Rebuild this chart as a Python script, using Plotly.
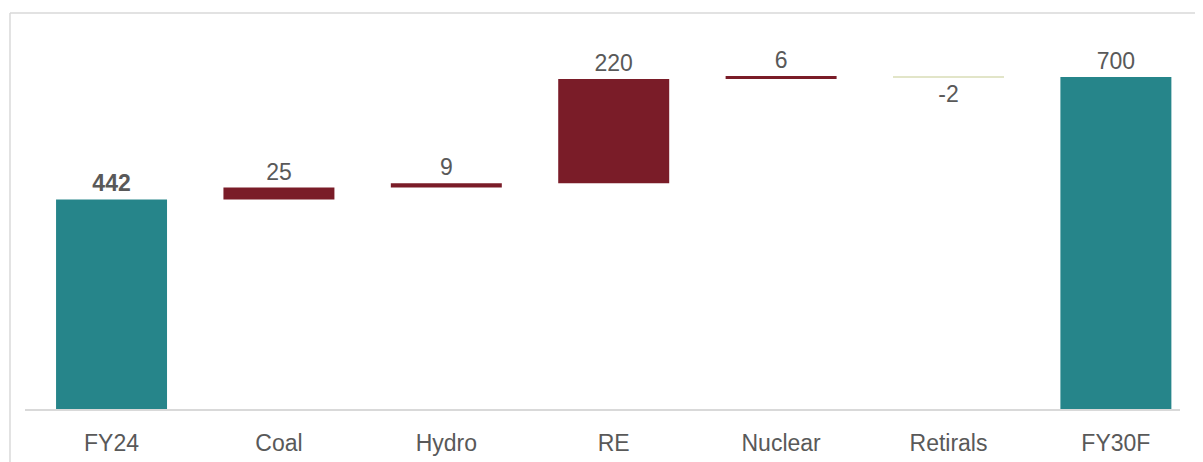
import plotly.graph_objects as go

categories = ["FY24", "Coal", "Hydro", "RE", "Nuclear", "Retirals", "FY30F"]
values = [442, 25, 9, 220, 6, -2, 0]
measures = ["absolute", "relative", "relative", "relative", "relative", "relative", "total"]
total_value = 700

labels = []
for i, (v, m) in enumerate(zip(values, measures)):
    if m == "total":
        labels.append(str(total_value))
    elif i == 0:
        labels.append("<b>%d</b>" % v)
    else:
        labels.append(str(v))

TEAL = "#26858A"
RED = "#7A1C28"
PALE = "#E2E5C8"
GREY_TXT = "#595959"
FRAME = "#D9D9D9"

fig = go.Figure(go.Waterfall(
    x=categories,
    y=values,
    measure=measures,
    text=labels,
    textposition="outside",
    textfont=dict(size=23, color=GREY_TXT, family="Arial, Liberation Sans, sans-serif"),
    cliponaxis=False,
    increasing=dict(marker=dict(color=RED)),
    decreasing=dict(marker=dict(color=PALE)),
    totals=dict(marker=dict(color=TEAL)),
    connector=dict(visible=False),
    width=0.663,
    hoverinfo="x+y",
))

fig.update_layout(
    width=1195, height=454,
    margin=dict(l=17, r=23, t=5, b=53),
    paper_bgcolor="white", plot_bgcolor="white",
    showlegend=False,
    font=dict(family="Arial, Liberation Sans, sans-serif", color=GREY_TXT),
    xaxis=dict(
        range=[-0.517, 6.383],
        showline=True, linecolor=FRAME, linewidth=1.5,
        showgrid=False, zeroline=False,
        ticks="outside", ticklen=13, tickcolor="rgba(0,0,0,0)",
        tickfont=dict(size=23, color=GREY_TXT),
        fixedrange=True,
    ),
    yaxis=dict(
        range=[0, 835],
        visible=False, showgrid=False, zeroline=False,
        fixedrange=True,
    ),
    shapes=[
        dict(type="line", xref="paper", yref="paper",
             x0=-0.013, x1=-0.013, y0=1.0, y1=-0.2,
             line=dict(color=FRAME, width=1.5)),
        dict(type="line", xref="paper", yref="paper",
             x0=-0.013, x1=1.03, y0=1.0, y1=1.0,
             line=dict(color=FRAME, width=1.5)),
    ],
)

fig.write_html("out.html")
